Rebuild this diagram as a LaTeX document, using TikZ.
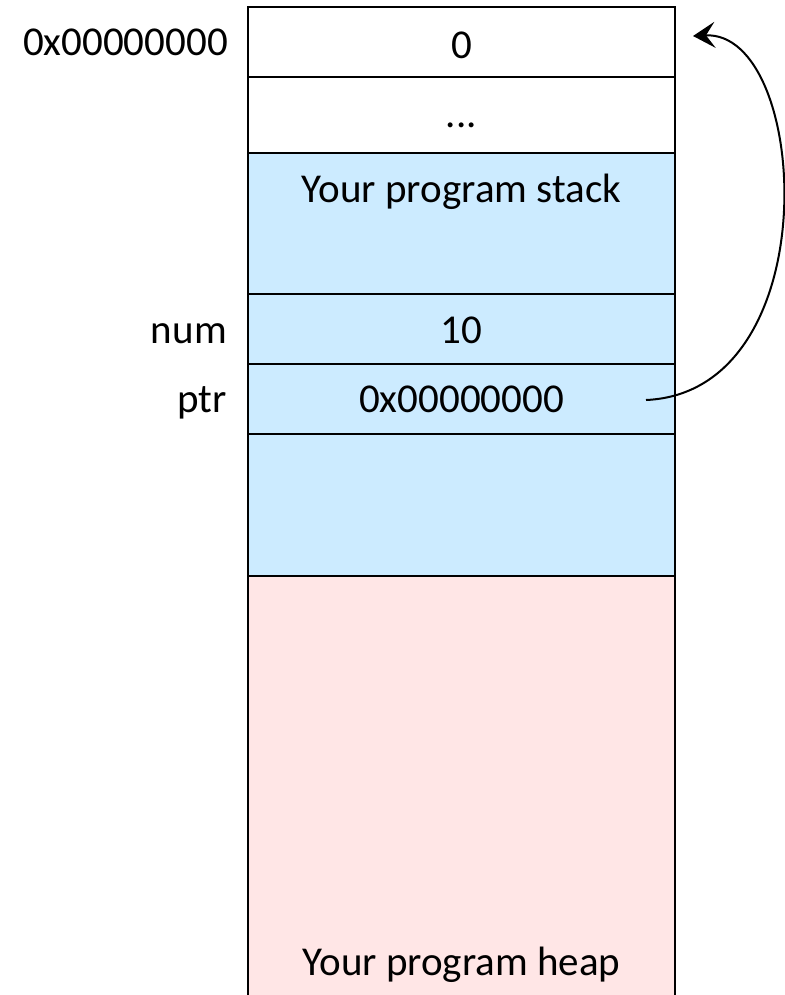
\documentclass[tikz,border=0pt]{standalone}
\usepackage{fontspec}
\setmainfont{Carlito}
\usetikzlibrary{arrows.meta}
\definecolor{stackblue}{RGB}{204,235,255}
\definecolor{heappink}{RGB}{255,230,230}
\tikzset{
  cell/.style={draw=black, line width=2.5pt, minimum width=427pt, inner sep=0pt, outer sep=0pt},
  lbl/.style={inner sep=0pt, anchor=base, font=\fontsize{41}{49}\selectfont},
  lblr/.style={inner sep=0pt, anchor=base east, font=\fontsize{41}{49}\selectfont},
}
\begin{document}
\begin{tikzpicture}[x=1pt, y=-1pt]
\useasboundingbox (0,0) rectangle (784,995);
% rows
\node[cell, fill=heappink, minimum height=434pt] (heap) at (461.5,793) {};
\node[cell, fill=stackblue, minimum height=142pt] (free) at (461.5,505) {};
\node[cell, fill=stackblue, minimum height=70pt] (ptrrow) at (461.5,399) {};
\node[cell, fill=stackblue, minimum height=70pt] (numrow) at (461.5,329) {};
\node[cell, fill=stackblue, minimum height=141pt] (stack) at (461.5,223.5) {};
\node[cell, fill=white, minimum height=76pt] (dots) at (461.5,115) {};
\node[cell, fill=white, minimum height=70pt] (zero) at (461.5,42) {};
% texts
\node[lbl] (t0) at (461.5,59) {0};
\node[lbl] (tdots) at (461.5,128) {...};
\node[lbl] (tstack) at (461.5,203) {Your program stack};
\node[lbl] (tnum) at (461.5,343) {10};
\node[lbl] (tptr) at (461.5,412) {0x00000000};
\node[lbl] (theap) at (461.5,975) {Your program heap};
% left labels
\node[lblr] (l0) at (228,56) {0x00000000};
\node[lblr] (lnum) at (227,343) {num};
\node[lblr] (lptr) at (227,412) {ptr};
% pointer arrow
\coordinate (from) at (646,400);
\coordinate (to) at (693,36);
\draw[line width=2pt, -{Stealth[length=22pt, width=26pt, inset=9pt]}]
  (from) .. controls (830,392) and (810,30) .. (to);
\end{tikzpicture}
\end{document}
